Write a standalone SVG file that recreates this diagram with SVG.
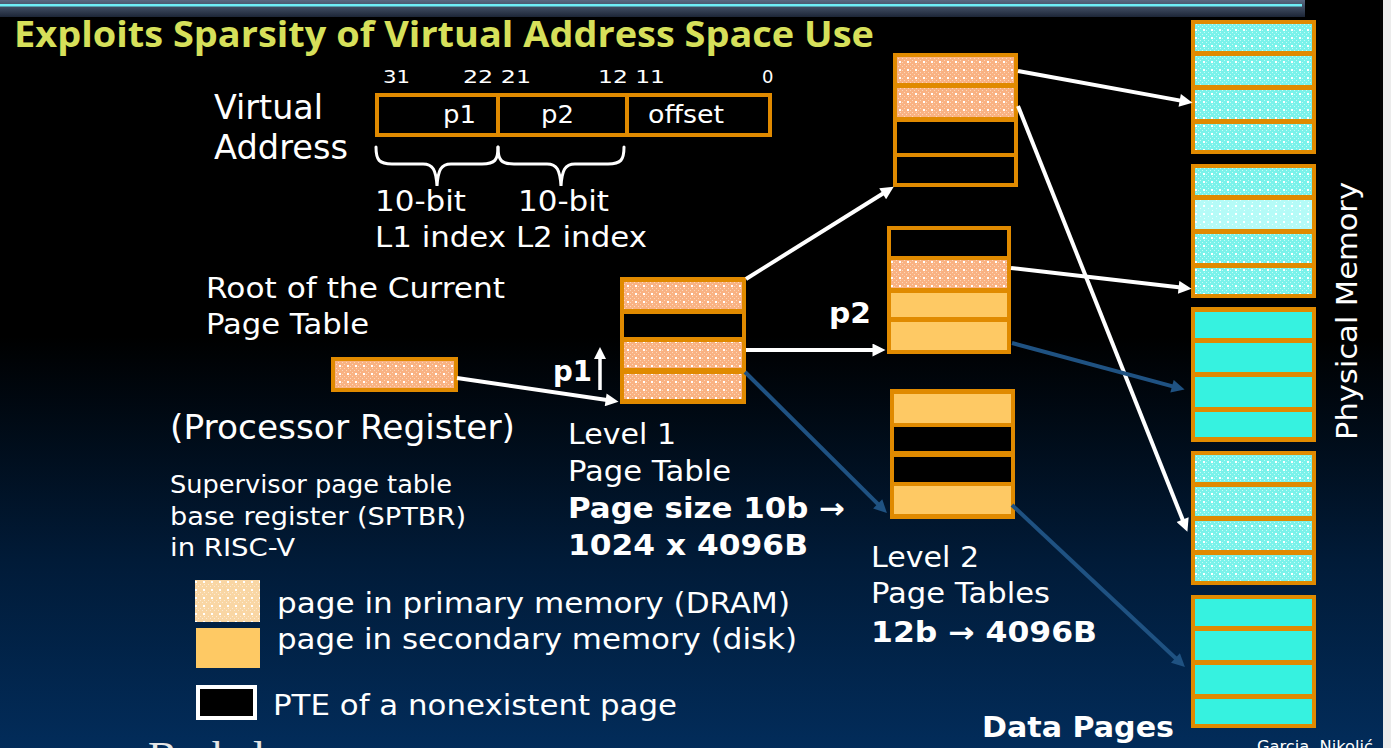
<svg xmlns="http://www.w3.org/2000/svg" width="1391" height="748" viewBox="0 0 1391 748">
<defs>
<linearGradient id="bg" x1="0" y1="0" x2="0" y2="1">
<stop offset="0" stop-color="#000"/>
<stop offset="0.45" stop-color="#000"/>
<stop offset="0.75" stop-color="#011b38"/>
<stop offset="1" stop-color="#022c5a"/>
</linearGradient>
<linearGradient id="band" x1="0" y1="0" x2="0" y2="1">
<stop offset="0" stop-color="#5a6a82"/>
<stop offset="1" stop-color="#1c2536"/>
</linearGradient>
<pattern id="salmon" width="8" height="8" patternUnits="userSpaceOnUse"><rect width="8" height="8" fill="#f9b283"/><rect x="0" y="0" width="1" height="1" fill="#fdd8ba"/><rect x="2" y="2" width="1" height="1" fill="#fdd8ba"/><rect x="4" y="0" width="1" height="1" fill="#fdd8ba"/><rect x="6" y="2" width="1" height="1" fill="#fdd8ba"/><rect x="0" y="4" width="1" height="1" fill="#fdd8ba"/><rect x="6" y="6" width="1" height="1" fill="#fdd8ba"/><rect x="3" y="5" width="2" height="2" fill="#fff"/></pattern>
<pattern id="cyan" width="8" height="8" patternUnits="userSpaceOnUse"><rect width="8" height="8" fill="#7af2ea"/><rect x="0" y="0" width="1" height="1" fill="#c4fcf8"/><rect x="2" y="2" width="1" height="1" fill="#c4fcf8"/><rect x="4" y="0" width="1" height="1" fill="#c4fcf8"/><rect x="6" y="2" width="1" height="1" fill="#c4fcf8"/><rect x="0" y="4" width="1" height="1" fill="#c4fcf8"/><rect x="6" y="6" width="1" height="1" fill="#c4fcf8"/><rect x="3" y="5" width="2" height="2" fill="#fff"/></pattern>
<pattern id="cyanL" width="8" height="8" patternUnits="userSpaceOnUse"><rect width="8" height="8" fill="#b4fbf7"/><rect x="3" y="5" width="2" height="2" fill="#fff"/><rect x="0" y="0" width="1" height="1" fill="#e6fffd"/><rect x="4" y="2" width="1" height="1" fill="#e6fffd"/></pattern>
<pattern id="legP" width="8" height="8" patternUnits="userSpaceOnUse"><rect width="8" height="8" fill="#f9d6a4"/><rect x="0" y="0" width="1" height="1" fill="#fdebd2"/><rect x="2" y="2" width="1" height="1" fill="#fdebd2"/><rect x="4" y="0" width="1" height="1" fill="#fdebd2"/><rect x="6" y="2" width="1" height="1" fill="#fdebd2"/><rect x="3" y="5" width="2" height="2" fill="#fff"/></pattern>
<marker id="ahW" viewBox="0 0 10 10" refX="5" refY="5" markerWidth="16" markerHeight="13" markerUnits="userSpaceOnUse" orient="auto"><path d="M0,0 L10,5 L0,10 z" fill="#fff"/></marker>
<marker id="ahB" viewBox="0 0 10 10" refX="5" refY="5" markerWidth="16" markerHeight="13" markerUnits="userSpaceOnUse" orient="auto"><path d="M0,0 L10,5 L0,10 z" fill="#1f5282"/></marker>
</defs>
<style>
.o{fill:#e08a00}
.s{fill:url(#salmon)}
.k{fill:#000}
.d{fill:#fec964}
.c{fill:url(#cyan)}
.cl{fill:url(#cyanL)}
.cs{fill:#36f2e0}
.t{font-family:"DejaVu Sans",Verdana,sans-serif;fill:#fff}
.b{font-weight:bold}
.w{stroke:#fff;stroke-width:4;fill:none;marker-end:url(#ahW)}
.bl{stroke:#1f5282;stroke-width:4;fill:none;marker-end:url(#ahB)}
.br{stroke:#fff;stroke-width:3;fill:none;stroke-linecap:round}
</style>
<rect width="1391" height="748" fill="url(#bg)"/>
<rect x="0" y="0" width="1305" height="17" fill="url(#band)"/>
<rect x="0" y="4" width="1302" height="2.5" fill="#6eeef6"/>
<rect x="1383" y="0" width="8" height="748" fill="#ececec"/>

<text x="14" y="47" font-family="'Open Sans',sans-serif" font-weight="bold" font-size="36" fill="#d6e05a" textLength="860" lengthAdjust="spacingAndGlyphs">Exploits Sparsity of Virtual Address Space Use</text>

<g id="virtual-address">
<text class="t" x="214" y="119" font-size="33" textLength="109" lengthAdjust="spacingAndGlyphs">Virtual</text>
<text class="t" x="214" y="159" font-size="33" textLength="134" lengthAdjust="spacingAndGlyphs">Address</text>
<text class="t" x="383" y="83" font-size="18" textLength="27" lengthAdjust="spacingAndGlyphs">31</text>
<text class="t" x="463" y="83" font-size="18" textLength="68" lengthAdjust="spacingAndGlyphs">22 21</text>
<text class="t" x="598" y="83" font-size="18" textLength="67" lengthAdjust="spacingAndGlyphs">12 11</text>
<text class="t" x="762" y="83" font-size="18">0</text>
<rect x="377" y="95" width="393" height="40" fill="none" stroke="#e08a00" stroke-width="4"/>
<line x1="498" y1="95" x2="498" y2="135" stroke="#e08a00" stroke-width="4"/>
<line x1="627" y1="95" x2="627" y2="135" stroke="#e08a00" stroke-width="4"/>
<text class="t" x="443" y="123" font-size="25" textLength="33" lengthAdjust="spacingAndGlyphs">p1</text>
<text class="t" x="541" y="123" font-size="25" textLength="33" lengthAdjust="spacingAndGlyphs">p2</text>
<text class="t" x="648" y="123" font-size="25" textLength="76" lengthAdjust="spacingAndGlyphs">offset</text>
<path class="br" d="M376,147 C376,160 379,164 392,164 L423,164 C433,164 436,170 437,186 C438,170 441,164 451,164 L482,164 C495,164 498,160 498,147"/>
<path class="br" d="M498,147 C498,160 501,164 514,164 L547,164 C557,164 560,170 561,186 C562,170 565,164 575,164 L608,164 C621,164 624,160 624,147"/>
<text class="t" x="375" y="211" font-size="29" textLength="91" lengthAdjust="spacingAndGlyphs">10-bit</text>
<text class="t" x="518" y="211" font-size="29" textLength="91" lengthAdjust="spacingAndGlyphs">10-bit</text>
<text class="t" x="375" y="247" font-size="29" textLength="272" lengthAdjust="spacingAndGlyphs">L1 index L2 index</text>
</g>

<g id="root-label">
<text class="t" x="206" y="298" font-size="29" textLength="299" lengthAdjust="spacingAndGlyphs">Root of the Current</text>
<text class="t" x="206" y="334" font-size="29" textLength="163" lengthAdjust="spacingAndGlyphs">Page Table</text>
</g>

<g id="processor-register">
<rect x="333" y="359" width="123" height="31" class="s" stroke="#e08a00" stroke-width="4"/>
<text class="t" x="170" y="439" font-size="33" textLength="345" lengthAdjust="spacingAndGlyphs">(Processor Register)</text>
<text class="t" x="170" y="493" font-size="24" textLength="282" lengthAdjust="spacingAndGlyphs">Supervisor page table</text>
<text class="t" x="170" y="525" font-size="24" textLength="296" lengthAdjust="spacingAndGlyphs">base register (SPTBR)</text>
<text class="t" x="170" y="556" font-size="24" textLength="125" lengthAdjust="spacingAndGlyphs">in RISC-V</text>
</g>

<g id="l1-table">
<rect x="620" y="277" width="126" height="127" class="o"/>
<rect x="624" y="282" width="118" height="27" class="s"/>
<rect x="624" y="314" width="118" height="23" class="k"/>
<rect x="624" y="342" width="118" height="26" class="s"/>
<rect x="624" y="374" width="118" height="25" class="s"/>
<text class="t b" x="553" y="381" font-size="28" textLength="39" lengthAdjust="spacingAndGlyphs">p1</text>
<line x1="600" y1="390" x2="600" y2="356" stroke="#fff" stroke-width="3.5"/>
<polygon points="600,347 594,359 606,359" fill="#fff"/>
<text class="t" x="568" y="444" font-size="28" textLength="108" lengthAdjust="spacingAndGlyphs">Level 1</text>
<text class="t" x="568" y="481" font-size="28" textLength="163" lengthAdjust="spacingAndGlyphs">Page Table</text>
<text class="t b" x="568" y="518" font-size="28" textLength="277" lengthAdjust="spacingAndGlyphs">Page size 10b →</text>
<text class="t b" x="568" y="555" font-size="28" textLength="240" lengthAdjust="spacingAndGlyphs">1024 x 4096B</text>
</g>

<g id="l2-table-top">
<rect x="893" y="53" width="125" height="134" class="o"/>
<rect x="897" y="57" width="117" height="26" class="s"/>
<rect x="897" y="88" width="117" height="29" class="s"/>
<rect x="897" y="122" width="117" height="31" class="k"/>
<rect x="897" y="157" width="117" height="26" class="k"/>
</g>

<g id="l2-table-mid">
<rect x="887" y="226" width="124" height="128" class="o"/>
<rect x="891" y="230" width="116" height="26" class="k"/>
<rect x="891" y="260" width="116" height="28" class="s"/>
<rect x="891" y="293" width="116" height="24" class="d"/>
<rect x="891" y="322" width="116" height="28" class="d"/>
<text class="t b" x="829" y="323" font-size="28" textLength="42" lengthAdjust="spacingAndGlyphs">p2</text>
</g>

<g id="l2-table-bottom">
<rect x="890" y="389" width="125" height="130" class="o"/>
<rect x="894" y="394" width="117" height="29" class="d"/>
<rect x="894" y="427" width="117" height="24" class="k"/>
<rect x="894" y="457" width="117" height="25" class="k"/>
<rect x="894" y="486" width="117" height="28" class="d"/>
<text class="t" x="871" y="567" font-size="28" textLength="108" lengthAdjust="spacingAndGlyphs">Level 2</text>
<text class="t" x="871" y="603" font-size="28" textLength="179" lengthAdjust="spacingAndGlyphs">Page Tables</text>
<text class="t b" x="871" y="642" font-size="28" textLength="226" lengthAdjust="spacingAndGlyphs">12b → 4096B</text>
</g>

<g id="phys-block-1">
<rect x="1191" y="20" width="125" height="134" class="o"/>
<rect x="1195" y="24" width="117" height="27" class="c"/>
<rect x="1195" y="56" width="117" height="29" class="c"/>
<rect x="1195" y="90" width="117" height="29" class="c"/>
<rect x="1195" y="124" width="117" height="26" class="c"/>
</g>
<g id="phys-block-2">
<rect x="1191" y="164" width="125" height="134" class="o"/>
<rect x="1195" y="168" width="117" height="27" class="c"/>
<rect x="1195" y="200" width="117" height="29" class="cl"/>
<rect x="1195" y="234" width="117" height="29" class="c"/>
<rect x="1195" y="268" width="117" height="26" class="c"/>
</g>
<g id="phys-block-3">
<rect x="1191" y="307" width="125" height="135" class="o"/>
<rect x="1195" y="312" width="117" height="26" class="cs"/>
<rect x="1195" y="343" width="117" height="29" class="cs"/>
<rect x="1195" y="377" width="117" height="30" class="cs"/>
<rect x="1195" y="412" width="117" height="25" class="cs"/>
</g>
<g id="phys-block-4">
<rect x="1191" y="451" width="125" height="134" class="o"/>
<rect x="1195" y="455" width="117" height="27" class="c"/>
<rect x="1195" y="487" width="117" height="29" class="c"/>
<rect x="1195" y="521" width="117" height="29" class="c"/>
<rect x="1195" y="555" width="117" height="26" class="c"/>
</g>
<g id="phys-block-5">
<rect x="1191" y="595" width="125" height="133" class="o"/>
<rect x="1195" y="599" width="117" height="27" class="cs"/>
<rect x="1195" y="631" width="117" height="29" class="cs"/>
<rect x="1195" y="665" width="117" height="29" class="cs"/>
<rect x="1195" y="699" width="117" height="25" class="cs"/>
</g>

<g id="labels-right">
<text class="t" transform="translate(1357,440) rotate(-90)" x="0" y="0" font-size="29" textLength="258" lengthAdjust="spacingAndGlyphs">Physical Memory</text>
<text class="t b" x="982" y="737" font-size="28" textLength="192" lengthAdjust="spacingAndGlyphs">Data Pages</text>
<text class="t" x="1257" y="752" font-size="16" textLength="116" lengthAdjust="spacingAndGlyphs">Garcia, Nikolić</text>
</g>

<g id="connectors">
<path class="w" d="M457,378 L612.1,400.8"/>
<path class="w" d="M746,279 L888.2,190.2"/>
<path class="w" d="M746,350 L879,350"/>
<path class="bl" d="M745,372 L882.3,508.4"/>
<path class="w" d="M1018,71 L1186.1,101.6"/>
<path class="w" d="M1018,106 L1185,525.6"/>
<path class="w" d="M1011,268 L1185.1,288.1"/>
<path class="bl" d="M1012,343 L1178.3,387.9"/>
<path class="bl" d="M1012,505 L1180.2,662.5"/>
</g>

<g id="legend">
<rect x="195" y="580" width="65" height="42" fill="url(#legP)"/>
<rect x="196" y="628" width="64" height="40" fill="#fec964"/>
<rect x="198" y="687" width="57" height="31" fill="#000" stroke="#fff" stroke-width="4"/>
<text class="t" x="277" y="613" font-size="28" textLength="513" lengthAdjust="spacingAndGlyphs">page in primary memory (DRAM)</text>
<text class="t" x="277" y="649" font-size="28" textLength="520" lengthAdjust="spacingAndGlyphs">page in secondary memory (disk)</text>
<text class="t" x="273" y="715" font-size="28" textLength="404" lengthAdjust="spacingAndGlyphs">PTE of a nonexistent page</text>
</g>

<text x="148" y="772" font-family="'Liberation Serif',serif" font-size="44" fill="#e6e6e6">Berkeley</text>
</svg>
